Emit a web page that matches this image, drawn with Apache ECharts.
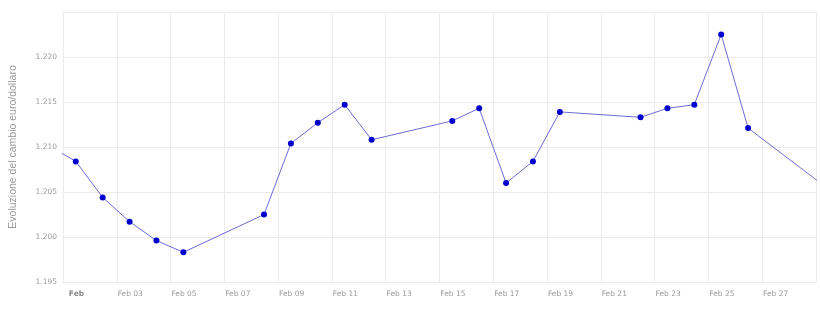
<!DOCTYPE html>
<html>
<head>
<meta charset="utf-8">
<script src="https://cdn.jsdelivr.net/npm/echarts@6/dist/echarts.min.js"></script>
<style>html,body{margin:0;padding:0;background:#fff}#c{width:820px;height:320px}</style>
</head>
<body>
<div id="c"></div>
<script>
// Observation dates (ECB-style daily fixing, around late morning UTC)
const dates = ['2021-01-29','2021-02-01','2021-02-02','2021-02-03','2021-02-04','2021-02-05',
  '2021-02-08','2021-02-09','2021-02-10','2021-02-11','2021-02-12',
  '2021-02-15','2021-02-16','2021-02-17','2021-02-18','2021-02-19',
  '2021-02-22','2021-02-23','2021-02-24','2021-02-25','2021-02-26','2021-03-01'];
const obsTime = 'T11:24:00Z';
const rates = [1.2136,1.2084,1.2044,1.2017,1.1996,1.1983,
  1.2025,1.2104,1.2127,1.2147,1.2108,
  1.2129,1.2143,1.2060,1.2084,1.2139,
  1.2133,1.2143,1.2147,1.2225,1.2121,1.2053];
const xRange = ['2021-02-01T00:00:00Z','2021-03-01T00:00:00Z'];
const labelDays = [1,3,5,7,9,11,13,15,17,19,21,23,25,27];
const yTicks = {min:1.195, max:1.225, step:0.005};
const yTitle = 'Evoluzione del cambio euro/dollaro';

const DAY = 86400000;
const xMin = Date.parse(xRange[0]), xMax = Date.parse(xRange[1]);
const points = dates.map((d,i)=>[Date.parse(d+obsTime), rates[i]]);
const labelVals = labelDays.map(d => Date.UTC(2021,1,d,12));

const chart = echarts.init(document.getElementById('c'));
chart.setOption({
  animation:false,
  grid:{left:62,right:4,top:12,bottom:38},
  xAxis:{
    type:'value', min:xMin, max:xMax, interval:2*DAY,
    axisLine:{show:false}, axisTick:{show:false},
    splitLine:{show:true,lineStyle:{color:'#ebebeb',width:1}},
    axisLabel:{
      customValues:labelVals,
      margin:8, color:'#9a9a9a', fontFamily:'DejaVu Sans, Verdana, sans-serif', fontSize:7.5,
      formatter:function(v){
        const dt=new Date(v); const d=dt.getUTCDate();
        if(d===1) return '{b|Feb}';
        return 'Feb '+(d<10?'0'+d:d);
      },
      rich:{b:{fontWeight:'bold',color:'#8a8a8a',fontFamily:'DejaVu Sans, Verdana, sans-serif',fontSize:7.5}}
    }
  },
  yAxis:{
    type:'value', min:yTicks.min, max:yTicks.max, interval:yTicks.step,
    name:yTitle, nameLocation:'middle', nameGap:44, nameRotate:90,
    nameTextStyle:{color:'#9a9a9a',fontFamily:'Liberation Sans, Arial, sans-serif',fontSize:10.5},
    axisLine:{show:false}, axisTick:{show:false},
    splitLine:{show:true,lineStyle:{color:'#ebebeb',width:1}},
    axisLabel:{
      margin:6, color:'#9a9a9a', fontFamily:'DejaVu Sans, Verdana, sans-serif', fontSize:7.5,
      showMaxLabel:false,
      formatter:function(v){return v.toFixed(3);}
    }
  },
  series:[{
    type:'line', data:points, clip:true,
    symbol:'circle', symbolSize:6,
    lineStyle:{color:'#6b6bd6',width:1},
    itemStyle:{color:'#0000cc',borderWidth:0}
  }]
});
</script>
</body>
</html>
